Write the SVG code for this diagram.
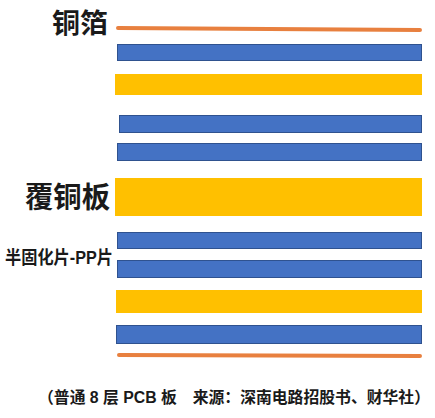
<svg xmlns="http://www.w3.org/2000/svg" width="435" height="418" viewBox="0 0 435 418">
<style>
.blue{fill:#4472C4;stroke:#2F528F;stroke-width:1}
.yellow{fill:#FFC000}
.orange{fill:none;stroke:#E8803F;stroke-width:4;stroke-linecap:round}
.lbl{font-family:"Liberation Sans","Noto Sans CJK SC",sans-serif;font-weight:bold;fill:#1a1a1a}
</style>
<rect width="435" height="418" fill="#fff"/>
<g id="labels">
<text class="lbl" x="52" y="33" font-size="27" textLength="56" lengthAdjust="spacingAndGlyphs">铜箔</text>
<text class="lbl" x="25" y="208" font-size="29" textLength="85" lengthAdjust="spacingAndGlyphs">覆铜板</text>
<text class="lbl" x="5" y="264" font-size="18" textLength="108" lengthAdjust="spacingAndGlyphs">半固化片-PP片</text>
<text class="lbl" x="38" y="403" font-size="16" textLength="392" lengthAdjust="spacingAndGlyphs">（普通 8 层 PCB 板　来源：深南电路招股书、财华社）</text>
</g>
<g id="layers">
<line id="cu-top" class="orange" x1="118" y1="28" x2="420" y2="30"/>
<rect id="pp1" class="blue" x="117.5" y="44.5" width="304" height="16"/>
<rect id="core1" class="yellow" x="115" y="74" width="307" height="21"/>
<rect id="pp2" class="blue" x="119.5" y="115.5" width="302" height="17"/>
<rect id="pp3" class="blue" x="117.5" y="143.5" width="304" height="17"/>
<rect id="core2" class="yellow" x="115" y="178" width="307" height="38"/>
<rect id="pp4" class="blue" x="117.5" y="232.5" width="304" height="16"/>
<rect id="pp5" class="blue" x="117.5" y="260.5" width="304" height="17"/>
<rect id="core3" class="yellow" x="116" y="290" width="306" height="23"/>
<rect id="pp6" class="blue" x="116.5" y="325.5" width="305" height="18"/>
<line id="cu-bot" class="orange" x1="119" y1="355" x2="420" y2="356"/>
</g>
</svg>
